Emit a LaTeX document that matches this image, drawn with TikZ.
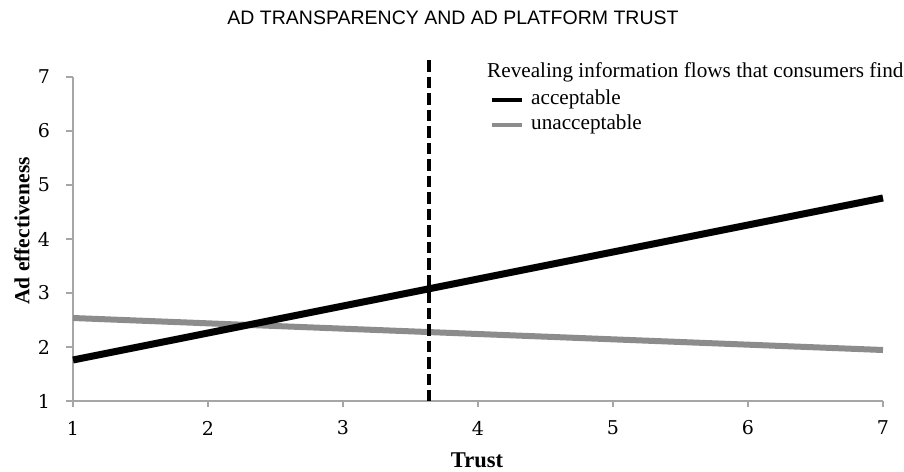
\documentclass[tikz,border=0pt]{standalone}
\usepackage{fontspec}
\setmainfont{Liberation Serif}
\newfontfamily\titlefont{Liberation Sans}
\newfontfamily\tickfont{DejaVu Serif}
\definecolor{axisgray}{HTML}{A6A6A6}
\definecolor{linegray}{HTML}{8C8C8C}
\begin{document}
\begin{tikzpicture}[x=1pt,y=-1pt,
  axisline/.style={draw=axisgray,line width=1.5pt},
  ticklab/.style={font=\tickfont\fontsize{19}{22}\selectfont,inner sep=0pt,text=black},
  axlab/.style={font=\fontsize{22.5}{26}\selectfont\bfseries,inner sep=0pt},
  legtext/.style={font=\fontsize{21.2}{24}\selectfont,inner sep=0pt,anchor=west},
  accline/.style={line width=7pt,black},
  unaccline/.style={line width=6pt,linegray},
  refline/.style={line width=3.5pt,black,dash pattern=on 11.5pt off 5pt}]
\useasboundingbox[fill=white] (0,0) rectangle (904,471);
% title
\node[font=\titlefont\fontsize{19.5}{22}\selectfont,inner sep=0pt] (title) at (453,18) {AD TRANSPARENCY AND AD PLATFORM TRUST};
% axes
\coordinate (origin) at (73,401);
\coordinate (ytop) at (73,77);
\coordinate (xend) at (883,401);
\draw[axisline] (ytop) -- (origin) -- (xend);
% y ticks and labels
\foreach \v/\py in {1/401,2/347,3/293,4/239,5/185,6/131,7/77}{
  \draw[axisline] (66,\py) -- (73,\py);
  \node[ticklab] (yl\v) at (44,\py) {\v};
}
% x ticks and labels
\foreach \v/\px in {1/73,2/208,3/343,4/478,5/613,6/748,7/883}{
  \draw[axisline] (\px,401) -- (\px,407);
  \node[ticklab] (xl\v) at (\px,428) {\v};
}
% axis titles
\node[axlab,rotate=90,font=\fontsize{21.5}{24}\selectfont\bfseries] (ylab) at (22,231) {Ad effectiveness};
\node[axlab] (xlab) at (477,460) {Trust};
% data lines
\coordinate (a1) at (73,360);
\coordinate (a7) at (883,198);
\coordinate (u1) at (73,318);
\coordinate (u7) at (883,350);
\draw[unaccline] (u1) -- (u7);
\draw[accline] (a1) -- (a7);
% reference dashed line
\coordinate (dtop) at (429,60);
\coordinate (dbot) at (429,401);
\draw[refline] (dtop) -- (dbot);
% legend
\node[legtext] (legtitle) at (487,72) {Revealing information flows that consumers find};
\coordinate (la0) at (492,100);
\coordinate (la1) at (522,100);
\coordinate (lu0) at (492,125);
\coordinate (lu1) at (522,125);
\draw[line width=4.5pt,black] (la0) -- (la1);
\draw[line width=4.5pt,linegray] (lu0) -- (lu1);
\node[legtext] (legacc) at (531,99) {acceptable};
\node[legtext] (legunacc) at (531,124) {unacceptable};
\end{tikzpicture}
\end{document}
